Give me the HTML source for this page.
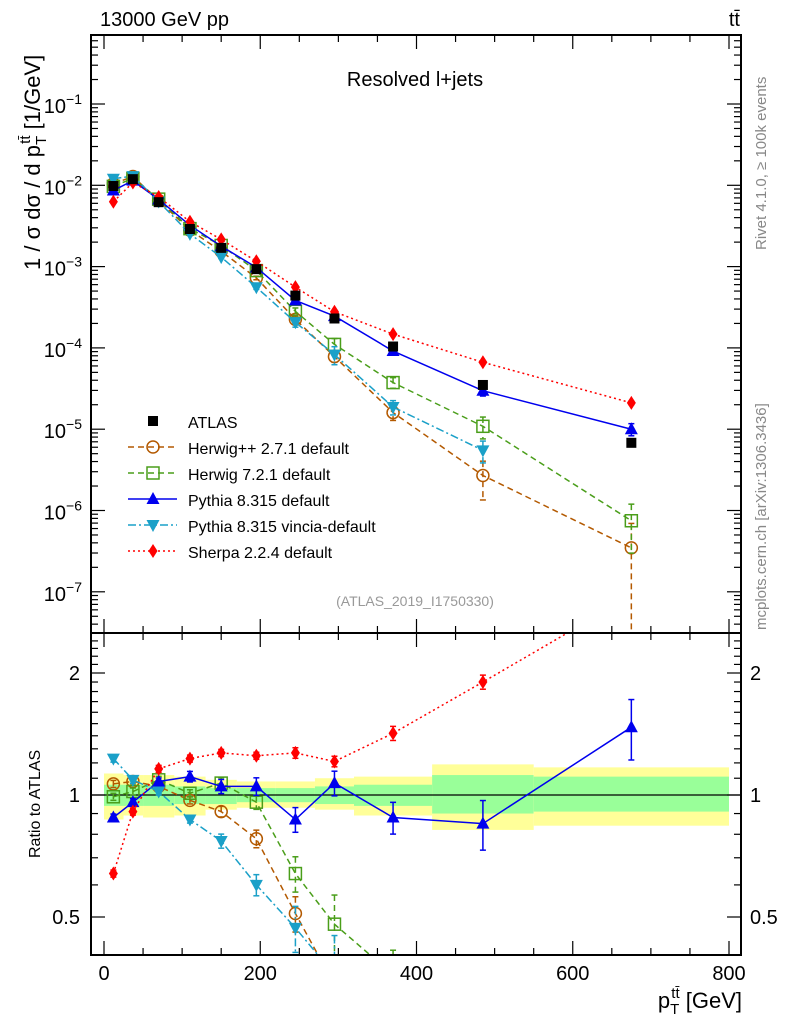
<!DOCTYPE html>
<html><head><meta charset="utf-8"><style>
html,body{margin:0;padding:0;background:#fff;width:786px;height:1024px;overflow:hidden}
svg{font-family:"Liberation Sans","DejaVu Sans",sans-serif;display:block}
</style></head><body>
<svg id="c" width="786" height="1024" viewBox="0 0 786 1024" style="position:absolute;left:0;top:0"></svg>
<script>
const xCenters=[12,37,70,110,150,195,245,295,370,485,675];
const binEdges=[0,25,50,90,130,170,220,270,320,420,550,800];
const atlasVals=[0.0098,0.0119,0.0062,0.0029,0.0017,0.00093,0.00044,0.00023,0.000104,3.5e-5,6.8e-6];
const atlasErr=[0.03,0.03,0.03,0.03,0.03,0.03,0.04,0.05,0.06,0.1,0.12];
const herwigppRatio=[1.065,1.08,1.05,0.97,0.91,0.78,0.51,0.34,0.154,0.077,0.051];
const herwig7Ratio=[0.99,1.02,1.09,1.01,1.07,0.96,0.64,0.48,0.36,0.31,0.11];
const pythiaRatio=[0.88,0.96,1.08,1.11,1.05,1.05,0.87,1.07,0.88,0.85,1.47];
const vinciaRatio=[1.23,1.09,1.02,0.87,0.77,0.60,0.47,0.36,0.18,0.157,null];
const sherpaRatio=[0.64,0.91,1.16,1.23,1.27,1.25,1.27,1.21,1.42,1.90,3.1];
const herwigppErr=[0.02,0.02,0.02,0.02,0.03,0.05,0.1,0.15,0.2,0.5,1.0];
const herwig7Err=[0.02,0.02,0.02,0.02,0.03,0.04,0.1,0.18,0.15,0.3,0.6];
const pythiaErr=[0.02,0.02,0.02,0.03,0.04,0.05,0.07,0.07,0.09,0.14,0.17];
const vinciaErr=[0.02,0.02,0.02,0.02,0.04,0.06,0.13,0.25,0.2,0.3,0];
const sherpaErr=[0.02,0.02,0.02,0.02,0.02,0.02,0.03,0.03,0.04,0.04,0.05];
const totUp=[1.13,1.12,1.12,1.11,1.09,1.08,1.08,1.10,1.11,1.19,1.17];
const totDn=[0.87,0.89,0.88,0.89,0.92,0.93,0.93,0.92,0.89,0.82,0.84];
const statUp=[1.06,1.06,1.06,1.05,1.04,1.04,1.04,1.05,1.06,1.12,1.11];
const statDn=[0.94,0.94,0.94,0.95,0.95,0.96,0.96,0.95,0.94,0.90,0.91];
const xTicks=[0,200,400,600,800];
const yMainTicks=[-1,-2,-3,-4,-5,-6,-7];
const yRatioTicks=[2,1,0.5];

const NS="http://www.w3.org/2000/svg";
const svg=document.getElementById('c');
function el(t,a,p){const e=document.createElementNS(NS,t);for(const k in a)e.setAttribute(k,a[k]);(p||svg).appendChild(e);return e;}
const L=91,R=741,T=35,M=633,B=955;
const X=v=>104+v*0.78125;
const Ym=v=>104+(-1-Math.log10(v))*81.3;
const Yr=v=>795-Math.log2(v)*122;

const defs=el('defs',{});
const c1=el('clipPath',{id:'cm'},defs);el('rect',{x:L,y:T,width:R-L,height:M-T},c1);
const c2=el('clipPath',{id:'cr'},defs);el('rect',{x:L,y:M,width:R-L,height:B-M},c2);

const gBand=el('g',{'clip-path':'url(#cr)'});


for(let i=0;i<xCenters.length;i++){
  const x0=X(binEdges[i]),x1=X(binEdges[i+1]);
  const r1=el('rect',{x:x0,y:Yr(totUp[i]),width:x1-x0,height:Yr(totDn[i])-Yr(totUp[i]),fill:'#ffff99'},gBand);
  
  
  const r2=el('rect',{x:x0,y:Yr(statUp[i]),width:x1-x0,height:Yr(statDn[i])-Yr(statUp[i]),fill:'#99ff99'},gBand);
  
  
}
el('line',{x1:L,x2:R,y1:Yr(1),y2:Yr(1),stroke:'#000','stroke-width':1.2});

function marker(g,type,x,y,col){
  let m;
  if(type==='sq') m=el('rect',{x:x-5,y:y-5,width:10,height:10,fill:'#000'},g);
  else if(type==='circ') m=el('circle',{cx:x,cy:y,r:6,fill:'#fff','fill-opacity':0,stroke:col,'stroke-width':1.5},g);
  else if(type==='osq') m=el('rect',{x:x-6,y:y-6,width:12,height:12,fill:'none',stroke:col,'stroke-width':1.5},g);
  else if(type==='tri') m=el('polygon',{points:`${x},${y-7} ${x-6.5},${y+5} ${x+6.5},${y+5}`,fill:col},g);
  else if(type==='itri') m=el('polygon',{points:`${x},${y+7} ${x-6.5},${y-5} ${x+6.5},${y-5}`,fill:col},g);
  else m=el('polygon',{points:`${x},${y-7} ${x-4.5},${y} ${x},${y+7} ${x+4.5},${y}`,fill:col},g);
  return m;
}
const series=[
 {name:'herwigpp',r:herwigppRatio,e:herwigppErr,col:'#b35900',dash:'6,4',m:'circ'},
 {name:'herwig7',r:herwig7Ratio,e:herwig7Err,col:'#4a9e1a',dash:'6,4',m:'osq'},
 {name:'pythia',r:pythiaRatio,e:pythiaErr,col:'#0000ee',dash:'',m:'tri'},
 {name:'vincia',r:vinciaRatio,e:vinciaErr,col:'#1aa0c8',dash:'8,3,2,3',m:'itri'},
 {name:'sherpa',r:sherpaRatio,e:sherpaErr,col:'#ff0000',dash:'2,3',m:'dia'}
];
function drawSeries(s,panel){
  const g=el('g',{'clip-path':panel==='main'?'url(#cm)':'url(#cr)'});
  
  
  const pts=[];
  for(let i=0;i<xCenters.length;i++){
    if(s.r[i]==null)continue;
    const val=panel==='main'?atlasVals[i]*s.r[i]:s.r[i];
    const f=panel==='main'?Ym:Yr;
    const x=X(xCenters[i]);
    const lo=Math.max(val*(1-s.e[i]),val*1e-4);
    const hi=val*(1+s.e[i]);
    if(s.e[i]>0){
      const eb=el('line',{x1:x,x2:x,y1:f(hi),y2:f(lo),stroke:s.col,'stroke-width':1.5,'stroke-dasharray':s.dash},g);
      
      
      el('line',{x1:x-3,x2:x+3,y1:f(hi),y2:f(hi),stroke:s.col,'stroke-width':1.5},g);
      el('line',{x1:x-3,x2:x+3,y1:f(lo),y2:f(lo),stroke:s.col,'stroke-width':1.5},g);
    }
    pts.push([x,f(val)]);
  }
  const ln=el('polyline',{points:pts.map(p=>p.join(',')).join(' '),fill:'none',stroke:s.col,'stroke-width':1.5,'stroke-dasharray':s.dash},g);
  
  
  pts.forEach(p=>{const m=marker(g,s.m,p[0],p[1],s.col);
    
    });
}
series.forEach(s=>drawSeries(s,'main'));
const ga=el('g',{'clip-path':'url(#cm)'});


for(let i=0;i<xCenters.length;i++){
  const x=X(xCenters[i]),y=Ym(atlasVals[i]);
  el('line',{x1:x,x2:x,y1:Ym(atlasVals[i]*(1+atlasErr[i])),y2:Ym(atlasVals[i]*(1-atlasErr[i])),stroke:'#000','stroke-width':1.5},ga);
  const m=marker(ga,'sq',x,y,'#000');
  
  
}
series.forEach(s=>drawSeries(s,'ratio'));

el('rect',{x:L,y:T,width:R-L,height:M-T,fill:'none',stroke:'#000','stroke-width':2});
el('rect',{x:L,y:M,width:R-L,height:B-M,fill:'none',stroke:'#000','stroke-width':2});

function txt(x,y,s,a,extra){const t=el('text',Object.assign({x:x,y:y,'font-size':a||20,fill:'#000'},extra||{}));t.textContent=s;return t;}
for(let v=0;v<=800;v+=50){
  const x=X(v),big=v%200===0,h=big?14:7;
  [T,M].forEach(y=>el('line',{x1:x,x2:x,y1:y,y2:y+h,stroke:'#000','stroke-width':1.2}));
  [M,B].forEach(y=>el('line',{x1:x,x2:x,y1:y,y2:y-h,stroke:'#000','stroke-width':1.2}));
}
xTicks.forEach(v=>{const t=txt(X(v),980,String(v),20,{'text-anchor':'middle'});
  });
for(let d=0;d>=-8;d--){
  for(let k=1;k<10;k++){
    const v=k*Math.pow(10,d),y=Ym(v);
    if(y<T||y>M)continue;
    const w=k===1?14:7;
    el('line',{x1:L,x2:L+w,y1:y,y2:y,stroke:'#000','stroke-width':1.2});
    el('line',{x1:R,x2:R-w,y1:y,y2:y,stroke:'#000','stroke-width':1.2});
  }
}
yMainTicks.forEach(d=>{
  const y=Ym(Math.pow(10,d));
  const t=el('text',{x:82,y:y+9,'font-size':20,'text-anchor':'end'});
  t.innerHTML='10<tspan dy="-9" font-size="14">−'+(-d)+'</tspan>';
  
});
for(let v=0.4;v<=2.5;v+=0.1){
  const y=Yr(v);if(y<M||y>B)continue;
  const big=[0.5,1,2].some(q=>Math.abs(q-v)<1e-6);const w=big?14:7;
  el('line',{x1:L,x2:L+w,y1:y,y2:y,stroke:'#000','stroke-width':1.2});
  el('line',{x1:R,x2:R-w,y1:y,y2:y,stroke:'#000','stroke-width':1.2});
}
yRatioTicks.forEach(v=>{
  const y=Yr(v);
  const t1=txt(80,y+7,String(v),20,{'text-anchor':'end'});
  
  const t2=txt(750,y+7,String(v),20,{});
  
});
const lg=el('g',{});


const legItems=[['ATLAS',null],['Herwig++ 2.7.1 default',series[0]],['Herwig 7.2.1 default',series[1]],['Pythia 8.315 default',series[2]],['Pythia 8.315 vincia-default',series[3]],['Sherpa 2.2.4 default',series[4]]];
legItems.forEach((it,i)=>{
  const y=421+i*26;
  if(it[1]){
    el('line',{x1:128,x2:177,y1:y,y2:y,stroke:it[1].col,'stroke-width':1.5,'stroke-dasharray':it[1].dash},lg);
    marker(lg,it[1].m,153,y,it[1].col);
  } else marker(lg,'sq',153,y,'#000');
  const t=txt(188,y+7,it[0],16,{});lg.appendChild(t);
  
});
</script>
<svg width="786" height="1024" style="position:absolute;left:0;top:0">
<text x="100" y="26" font-size="20" font-family="Liberation Sans">13000 GeV pp</text>
<text x="740" y="26" font-size="20" font-family="Liberation Sans" text-anchor="end">tt̄</text>
<text x="415" y="86" font-size="20" font-family="Liberation Sans" text-anchor="middle">Resolved l+jets</text>
<text x="415" y="606" font-size="14" fill="#999" font-family="Liberation Sans" text-anchor="middle">(ATLAS_2019_I1750330)</text>
<text transform="translate(766,630) rotate(-90)" font-size="15" fill="#888" font-family="Liberation Sans">mcplots.cern.ch [arXiv:1306.3436]</text>
<text transform="translate(766,250) rotate(-90)" font-size="15" fill="#888" font-family="Liberation Sans">Rivet 4.1.0, ≥ 100k events</text>
<text transform="translate(40,270) rotate(-90)" font-size="22" font-family="Liberation Sans">1 / σ dσ / d p<tspan font-size="15" dy="6">T</tspan><tspan font-size="15" dy="-16" dx="-8">tt̄</tspan><tspan dy="10"> [1/GeV]</tspan></text>
<text transform="translate(40,858) rotate(-90)" font-size="16" font-family="Liberation Sans">Ratio to ATLAS</text>
<text x="742" y="1008" font-size="22" font-family="Liberation Sans" text-anchor="end">p<tspan font-size="15" dy="6">T</tspan><tspan font-size="15" dy="-16" dx="-8">tt̄</tspan><tspan dy="10"> [GeV]</tspan></text>
</svg>
</body></html>
